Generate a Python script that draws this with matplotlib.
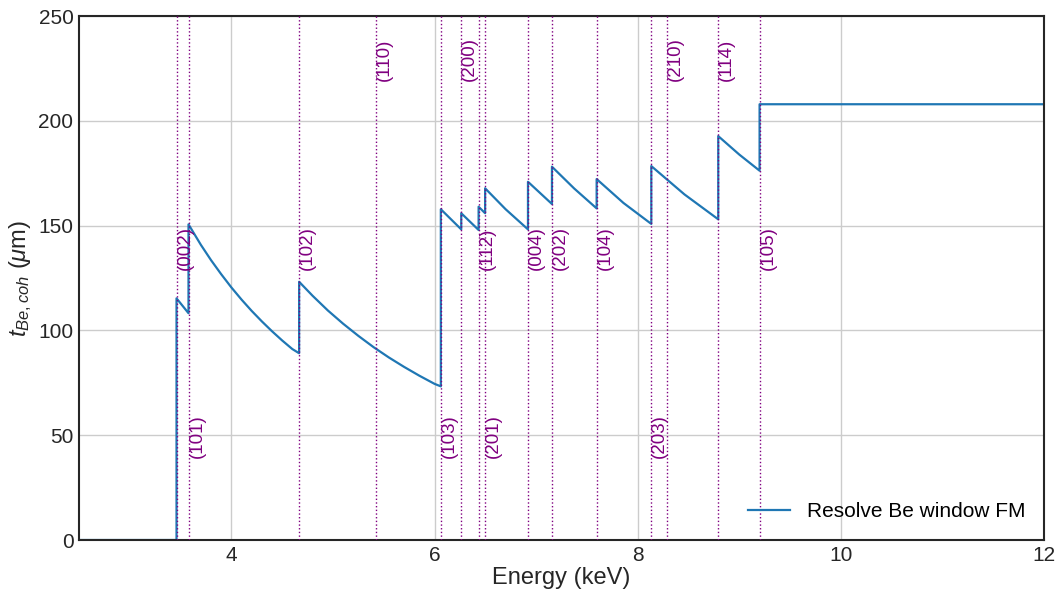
import matplotlib
matplotlib.use("Agg")
import matplotlib.pyplot as plt

plt.rcParams['font.family'] = ['Liberation Sans', 'DejaVu Sans']
plt.rcParams['mathtext.fontset'] = 'custom'
plt.rcParams['mathtext.rm'] = 'Liberation Sans'
plt.rcParams['mathtext.it'] = 'Liberation Sans:italic'
plt.rcParams['mathtext.bf'] = 'Liberation Sans:bold'

# Curve: energy (keV) and coherent Be thickness (um); duplicated x = vertical jumps at edges
energy = [2.5, 3.460, 3.460, 3.52, 3.578,
          3.578, 3.7, 3.8, 3.9, 4.0, 4.1, 4.2, 4.3, 4.4, 4.5, 4.6, 4.667,
          4.667, 4.8, 4.95, 5.1, 5.25, 5.4, 5.55, 5.7, 5.85, 6.0, 6.062,
          6.062, 6.263, 6.263, 6.434, 6.434, 6.498, 6.498, 6.7, 6.920,
          6.920, 7.156, 7.156, 7.375, 7.596, 7.596, 7.86, 8.134,
          8.134, 8.46, 8.793, 8.793, 9.0, 9.200, 9.200, 12.0]
thickness = [0.0, 0.0, 115.3, 111.7, 108.2,
             150.6, 140.8, 133.5, 126.8, 120.5, 114.7, 109.3, 104.3, 99.6, 95.2, 91.1, 89.1,
             123.2, 116.5, 109.5, 103.2, 97.4, 92.0, 87.1, 82.6, 78.4, 74.5, 73.3,
             157.8, 148.2, 155.9, 147.9, 159.0, 155.9, 167.8, 157.8, 148.2,
             170.9, 160.3, 178.1, 167.7, 158.2, 172.2, 160.8, 150.8,
             178.4, 164.9, 153.0, 192.7, 183.9, 176.2, 207.9, 207.9]

# Bragg edges of Be
edge_labels = ['(002)', '(101)', '(102)', '(110)', '(103)', '(200)', '(112)', '(201)',
               '(004)', '(202)', '(104)', '(203)', '(210)', '(114)', '(105)']
edge_energy = [3.460, 3.578, 4.667, 5.424, 6.062, 6.263, 6.434, 6.498,
               6.920, 7.156, 7.596, 8.134, 8.286, 8.793, 9.200]
label_y = [129, 39, 129, 219, 39, 219, 129, 39,
           129, 129, 129, 39, 219, 219, 129]

fig = plt.figure(figsize=(10.58, 5.9), dpi=100)
ax = fig.add_axes([79/1058, 1 - 540/590, (1044 - 79)/1058, (540 - 16)/590])

ax.grid(True, color='#cccccc', linewidth=1.0)
ax.set_axisbelow(True)

for e, lab, ly in zip(edge_energy, edge_labels, label_y):
    ax.axvline(e, color='purple', linestyle=':', linewidth=1.0, zorder=3)
    ax.text(e, ly, lab, rotation=90, ha='left', va='bottom', color='purple',
            fontsize=13.5, zorder=4)

ax.plot(energy, thickness, color='#1f77b4', linewidth=1.6, label='Resolve Be window FM', zorder=2.5)

ax.set_xlim(2.5, 12)
ax.set_ylim(0, 250)
ax.set_xticks([4, 6, 8, 10, 12])
ax.set_yticks([0, 50, 100, 150, 200, 250])
ax.tick_params(axis='both', length=0, pad=4, labelsize=15, colors='#262626')
for s in ax.spines.values():
    s.set_color('#262626')
    s.set_linewidth(1.5)

ax.set_xlabel('Energy (keV)', fontsize=17, color='#262626', labelpad=2)
ax.set_ylabel(r'$t_{Be,coh}$ ($\mu$m)', fontsize=17, color='#262626', labelpad=3)

ax.legend(loc='lower right', fontsize=15, frameon=False)

fig.savefig('out.png', dpi=100)
